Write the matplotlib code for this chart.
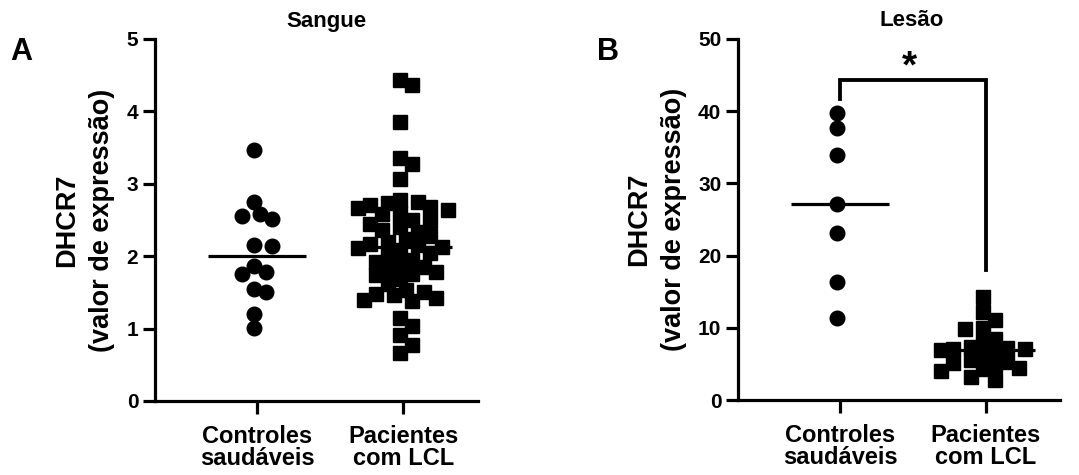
import numpy as np
import matplotlib
matplotlib.use("Agg")
import matplotlib.pyplot as plt

plt.rcParams['font.family'] = ['Liberation Sans', 'DejaVu Sans']
plt.rcParams['font.weight'] = 'bold'
plt.rcParams['axes.titleweight'] = 'bold'
plt.rcParams['axes.labelweight'] = 'bold'

# data
groups = ["Controles\nsaudáveis", "Pacientes\ncom LCL"]
blood_ctrl = [3.47, 2.75, 2.58, 2.56, 2.52, 2.16, 2.14, 1.87, 1.78, 1.75,
              1.55, 1.50, 1.20, 1.01]
blood_lcl = [4.43, 4.36, 3.86, 3.35, 3.27, 3.06,
             2.78, 2.75, 2.73, 2.71, 2.68, 2.66, 2.64, 2.60, 2.58,
             2.50, 2.48, 2.45, 2.40, 2.36, 2.33,
             2.28, 2.24, 2.20, 2.17, 2.15, 2.13,
             2.11, 2.09, 2.05, 2.00, 1.95, 1.92, 1.88, 1.85, 1.81, 1.78,
             1.76, 1.74, 1.69,
             1.62, 1.53, 1.51, 1.48, 1.46, 1.42, 1.40, 1.38,
             1.14, 1.03, 0.91, 0.77, 0.66]
lesion_ctrl = [39.8, 37.7, 33.9, 27.1, 23.1, 16.4, 11.3]
lesion_lcl = [14.3, 12.2, 11.1, 10.0, 9.8, 8.5, 8.0, 7.4, 7.2, 7.1, 7.0, 6.9,
              6.6, 6.3, 5.5, 5.3, 5.1, 4.8, 4.5, 4.3, 4.0, 3.2, 2.8]
yticks_a = [0, 1, 2, 3, 4, 5]
yticks_b = [0, 10, 20, 30, 40, 50]

MS = 10.5            # marker size in points
LW = 2.3


def swarm(ax, xc, vals, min_px=12.5, max_px=45, step_px=6):
    """simple beeswarm: put each point at the nearest free offset"""
    vals = np.asarray(vals, float)
    tr = ax.transData
    x0 = tr.transform((xc, 0))[0]
    cands = sorted(np.arange(-max_px, max_px + 0.1, step_px), key=lambda c: (abs(c), c))
    placed = []
    xs = np.empty(len(vals))
    for i in np.argsort(vals)[::-1]:
        ypx = tr.transform((xc, vals[i]))[1]
        best, bestd = 0.0, -1.0
        for c in cands:
            d = min([np.hypot(x0 + c - px, ypx - py) for px, py in placed], default=1e9)
            if d >= min_px:
                best = c
                break
            if d > bestd:
                best, bestd = c, d
        placed.append((x0 + best, ypx))
        xs[i] = tr.inverted().transform((x0 + best, ypx))[0]
    return xs


def style(ax, ylim, yticks, title, tx):
    ax.set_xlim(-0.7, 1.51)
    ax.set_ylim(*ylim)
    ax.set_yticks(yticks)
    ax.set_xticks([0, 1])
    ax.set_xticklabels(groups, fontsize=17, linespacing=0.95)
    ax.tick_params(axis='y', labelsize=15, width=LW, length=9, pad=3)
    ax.tick_params(axis='x', width=LW, length=9, pad=8)
    for s in ['top', 'right']:
        ax.spines[s].set_visible(False)
    for s in ['left', 'bottom']:
        ax.spines[s].set_linewidth(LW)
    ax.set_ylabel("DHCR7\n(valor de expressão)", fontsize=19.5, labelpad=8, linespacing=1.45)
    ax.set_title(title, fontsize=16, x=tx, pad=9)


fig = plt.figure(figsize=(10.79, 4.75), dpi=100)
axA = fig.add_axes([155 / 1079, 74 / 475, 323 / 1079, 362 / 475])
axB = fig.add_axes([738 / 1079, 75 / 475, 322 / 1079, 361 / 475])

style(axA, (0, 5), yticks_a, "Sangue", 0.53)
style(axB, (0, 50), yticks_b, "Lesão", 0.54)

for ax, ctrl, lcl in [(axA, blood_ctrl, blood_lcl), (axB, lesion_ctrl, lesion_lcl)]:
    xc = swarm(ax, 0, ctrl)
    xl = swarm(ax, 1, lcl)
    ax.plot(xc, ctrl, 'o', ms=MS, color='black', mec='black', clip_on=False, zorder=3)
    ax.plot(xl, lcl, 's', ms=MS, color='black', mec='black', clip_on=False, zorder=3)
    for i, v in enumerate([ctrl, lcl]):
        ax.hlines(np.median(v), i - 0.335, i + 0.335, color='black', lw=LW, zorder=4)

# significance bracket
axB.plot([0, 0, 1, 1], [41.7, 44.3, 44.3, 18.0], color='black', lw=LW * 1.2,
         solid_joinstyle='miter', clip_on=False)
axB.text(0.48, 43.6, "*", ha='center', va='bottom', fontsize=28)

fig.text(10 / 1079, 1 - 60 / 475, "A", fontsize=22, ha='left', va='baseline')
fig.text(597 / 1079, 1 - 60 / 475, "B", fontsize=22, ha='left', va='baseline')

fig.savefig("out.png", dpi=100)
